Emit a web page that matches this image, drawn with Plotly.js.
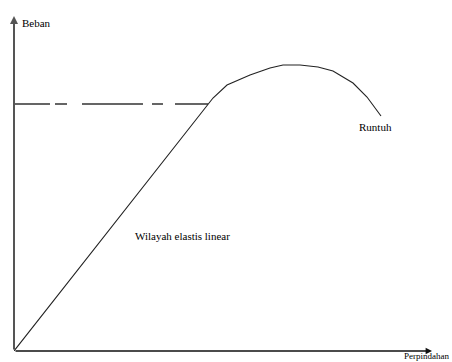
<!DOCTYPE html>
<html>
<head>
<meta charset="utf-8">
<script src="https://cdn.plot.ly/plotly-3.0.1.min.js"></script>
<style>html,body{margin:0;padding:0;background:#fff;}#chart{width:452px;height:362px;}</style>
</head>
<body>
<div id="chart"></div>
<script>
// Load-displacement curve (arbitrary units)
const perpindahan = [0, 194, 199, 213, 236, 256, 269, 286, 304, 319, 339, 353, 367];
const beban       = [0, 247, 253, 266, 276, 283, 286, 286, 284, 280, 268, 254, 235];
const lelehX = [0, 194];
const lelehY = [247, 247];
const labels = {y: "Beban", x: "Perpindahan", runtuh: "Runtuh", elastis: "Wilayah elastis linear"};

const font = {family: "Liberation Serif, Times New Roman, serif", size: 11, color: "#000"};

const traces = [
  {x: lelehX, y: lelehY, mode: "lines", line: {color: "#333", width: 1.3, dash: "36px,5px,12px,15px,61px,9px,11px,12px,40px"}, hoverinfo: "skip"},
  {x: perpindahan, y: beban, mode: "lines", line: {color: "#222", width: 1.1}, hoverinfo: "skip"}
];

const layout = {
  width: 452, height: 362,
  margin: {l: 14, r: 20, t: 16, b: 11},
  paper_bgcolor: "#fff", plot_bgcolor: "#fff",
  showlegend: false,
  xaxis: {range: [0, 418], showgrid: false, zeroline: false, showticklabels: false, ticks: "", showline: false, fixedrange: true},
  yaxis: {range: [0, 335], showgrid: false, zeroline: false, showticklabels: false, ticks: "", showline: false, fixedrange: true},
  annotations: [
    {x: 0, y: 335, ax: 0, ay: 0, xref: "x", yref: "y", axref: "x", ayref: "y", text: "", showarrow: true, arrowhead: 2, arrowsize: 0.8, arrowwidth: 2, arrowcolor: "#555"},
    {x: 418, y: 0, ax: 0, ay: 0, xref: "x", yref: "y", axref: "x", ayref: "y", text: "", showarrow: true, arrowhead: 2, arrowsize: 0.8, arrowwidth: 1.6, arrowcolor: "#111"},
    {x: 6, y: 328, xref: "x", yref: "y", text: labels.y, showarrow: false, xanchor: "left", yanchor: "middle", font: font},
    {x: 1.043, y: -0.033, xref: "paper", yref: "paper", text: labels.x, showarrow: false, xanchor: "right", yanchor: "bottom", borderpad: 0, font: {family: font.family, size: 9, color: "#000"}},
    {x: 343, y: 224, xref: "x", yref: "y", text: labels.runtuh, showarrow: false, xanchor: "left", yanchor: "middle", font: font},
    {x: 119, y: 115, xref: "x", yref: "y", text: labels.elastis, showarrow: false, xanchor: "left", yanchor: "middle", font: font}
  ]
};

Plotly.newPlot("chart", traces, layout, {displayModeBar: false, staticPlot: true});
</script>
</body>
</html>
